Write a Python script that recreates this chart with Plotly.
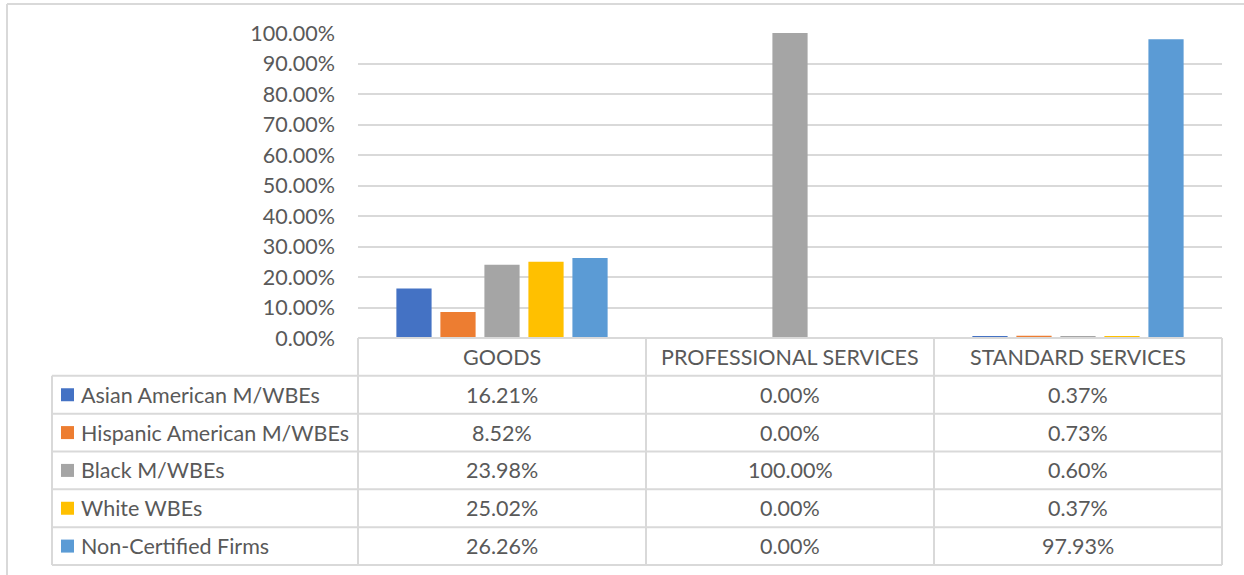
import plotly.graph_objects as go

# ---- data ----
categories = ["GOODS", "PROFESSIONAL SERVICES", "STANDARD SERVICES"]
series_names = ["Asian American M/WBEs", "Hispanic American M/WBEs", "Black M/WBEs",
                "White WBEs", "Non-Certified Firms"]
asian_american = [16.21, 0.00, 0.37]
hispanic_american = [8.52, 0.00, 0.73]
black = [23.98, 100.00, 0.60]
white_wbes = [25.02, 0.00, 0.37]
non_certified = [26.26, 0.00, 97.93]
series_values = [asian_american, hispanic_american, black, white_wbes, non_certified]
y_tick_values = [0, 10, 20, 30, 40, 50, 60, 70, 80, 90, 100]
y_tick_labels = [f"{v:.2f}%" for v in y_tick_values]

# ---- styling ----
colors = ["#4472C4", "#ED7D31", "#A5A5A5", "#FFC000", "#5B9BD5"]
W, H = 1244, 575
FONT = "Lato"
FS = 21.5
TXT = "#595959"
GRID = "#D9D9D9"

plot_left, plot_right = 358, 1222
plot_top, plot_bottom = 33, 338
table_left = 52
row_h = (565 - plot_bottom) / 6.0


def px(x):
    return x / W


def py(y):
    return 1 - y / H


fig = go.Figure()
for name, vals, c in zip(series_names, series_values, colors):
    fig.add_trace(go.Bar(x=categories, y=vals, name=name, marker_color=c,
                         marker_line_width=0, showlegend=False))

shapes = []
annotations = []

# outer chart border (top and left)
shapes.append(dict(type="line", xref="paper", yref="paper", x0=px(7), x1=px(W + 2),
                   y0=py(4), y1=py(4), line=dict(color=GRID, width=2)))
shapes.append(dict(type="line", xref="paper", yref="paper", x0=px(7), x1=px(7),
                   y0=py(4), y1=py(H + 2), line=dict(color=GRID, width=2)))

col_w = (plot_right - plot_left) / len(categories)
col_edges = [plot_left + i * col_w for i in range(len(categories) + 1)]
row_edges = [plot_bottom + i * row_h for i in range(len(series_names) + 2)]

# horizontal table lines
for i, ye in enumerate(row_edges):
    x0 = plot_left if i == 0 else table_left
    shapes.append(dict(type="line", xref="paper", yref="paper", x0=px(x0), x1=px(plot_right),
                       y0=py(ye), y1=py(ye), line=dict(color=GRID, width=2)))
# vertical table lines
for xe in col_edges:
    shapes.append(dict(type="line", xref="paper", yref="paper", x0=px(xe), x1=px(xe),
                       y0=py(plot_bottom), y1=py(row_edges[-1]), line=dict(color=GRID, width=2)))
shapes.append(dict(type="line", xref="paper", yref="paper", x0=px(table_left), x1=px(table_left),
                   y0=py(row_edges[1]), y1=py(row_edges[-1]), line=dict(color=GRID, width=2)))

# header labels
for j, cat in enumerate(categories):
    annotations.append(dict(xref="paper", yref="paper", x=px((col_edges[j] + col_edges[j + 1]) / 2),
                            y=py((row_edges[0] + row_edges[1]) / 2), text=cat, showarrow=False,
                            xanchor="center", yanchor="middle", font=dict(family=FONT, size=FS, color=TXT)))

# rows
for i, (name, vals, c) in enumerate(zip(series_names, series_values, colors)):
    yc = (row_edges[i + 1] + row_edges[i + 2]) / 2
    shapes.append(dict(type="rect", xref="paper", yref="paper", x0=px(61), x1=px(74),
                       y0=py(yc - 6.5), y1=py(yc + 6.5), fillcolor=c, line=dict(width=0)))
    annotations.append(dict(xref="paper", yref="paper", x=px(79), y=py(yc), text=name,
                            showarrow=False, xanchor="left", yanchor="middle",
                            font=dict(family=FONT, size=FS, color=TXT)))
    for j, v in enumerate(vals):
        annotations.append(dict(xref="paper", yref="paper", x=px((col_edges[j] + col_edges[j + 1]) / 2),
                                y=py(yc), text=f"{v:.2f}%", showarrow=False,
                                xanchor="center", yanchor="middle",
                                font=dict(family=FONT, size=FS, color=TXT)))

fig.update_layout(
    width=W, height=H,
    margin=dict(l=0, r=0, t=0, b=0),
    paper_bgcolor="white", plot_bgcolor="white",
    barmode="group", bargap=0.236, bargroupgap=0.2,
    font=dict(family=FONT, size=FS, color=TXT),
    xaxis=dict(domain=[px(plot_left), px(plot_right)], showticklabels=False, showgrid=False,
               showline=False, zeroline=False, automargin=False),
    yaxis=dict(domain=[py(plot_bottom), py(plot_top)], range=[0, 100], tickmode="array",
               tickvals=y_tick_values, ticktext=y_tick_labels,
               showgrid=True, gridcolor=GRID, gridwidth=2,
               zeroline=False, showline=False, ticks="", ticklabelstandoff=22, automargin=False,
               tickfont=dict(family=FONT, size=FS, color=TXT)),
    shapes=shapes, annotations=annotations,
)

fig.write_html("out.html", config={"displayModeBar": False},
               post_script="document.body.style.margin='0';document.body.style.overflow='hidden';")
